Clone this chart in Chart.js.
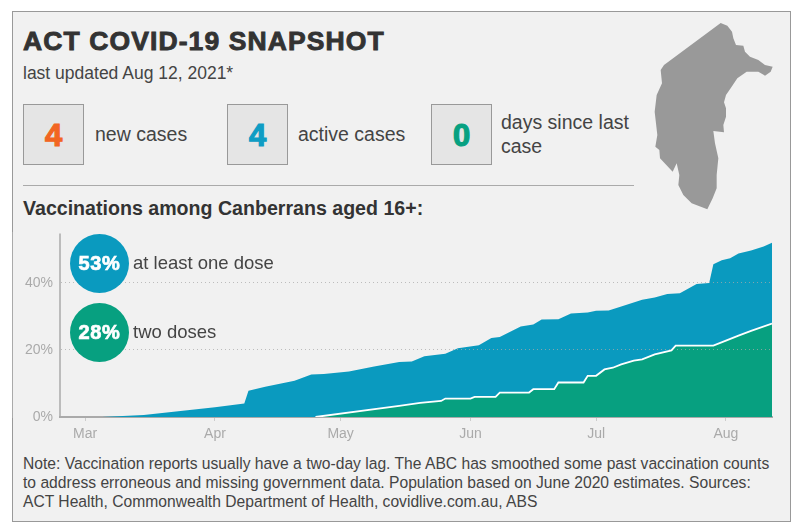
<!DOCTYPE html>
<html>
<head>
<meta charset="utf-8">
<script src="https://cdn.jsdelivr.net/npm/chart.js@4"></script>
<style>
html, body { margin: 0; padding: 0; background: #fff; }
body { width: 800px; height: 532px; position: relative; overflow: hidden; font-family: "Liberation Sans", Arial, sans-serif; color: #444; }
#panel { position: absolute; left: 12px; top: 11px; width: 777px; height: 509px; background: #f1f1f1; border: 1px solid #999; }
.t { position: absolute; white-space: nowrap; line-height: 1; }
.box { position: absolute; top: 104px; width: 59px; height: 59px; background: #e5e5e5; border: 1px solid #999; text-align: center; font-weight: bold; font-size: 31px; line-height: 61px; -webkit-text-stroke: 1.2px; }
.dot { position: absolute; left: 70px; width: 59px; height: 59px; border-radius: 50%; color: #fff; text-align: center; font-weight: bold; font-size: 20px; letter-spacing: 0.6px; line-height: 59px; -webkit-text-stroke: 0.7px #fff; }
.big { font-size: 19.5px; }
.note { font-size: 15.65px; }
#chart { position: absolute; left: 12px; top: 218px; }
#map { position: absolute; left: 650px; top: 15px; }
#rule { position: absolute; left: 23px; top: 185px; width: 611px; height: 1px; background: #aaa; }
</style>
</head>
<body>
<div id="panel"></div>
<div class="t" style="left:23px;top:28px;font-size:26.5px;font-weight:bold;color:#333;letter-spacing:1.1px;-webkit-text-stroke:0.9px #333">ACT COVID-19 SNAPSHOT</div>
<div class="t" style="left:23px;top:65px;font-size:17.5px">last updated Aug 12, 2021*</div>

<div class="box" style="left:23px;color:#f26522">4</div>
<div class="t big" style="left:95px;top:125px">new cases</div>
<div class="box" style="left:227px;color:#0f9dc4">4</div>
<div class="t big" style="left:298px;top:125px">active cases</div>
<div class="box" style="left:431px;color:#07a181">0</div>
<div class="t big" style="left:501px;top:113px">days since last</div>
<div class="t big" style="left:501px;top:137px">case</div>

<div id="rule"></div>
<svg id="map" width="130" height="200" viewBox="0 0 390 600">
  <polygon fill="#999" points="212,24 232,32 246,50 250,70 258,90 280,92 285,110 300,125 325,135 345,150 368,155 362,170 345,182 325,170 290,170 262,190 245,215 228,240 222,262 228,280 228,305 220,330 222,352 190,348 195,385 205,430 200,480 200,520 188,550 172,583 125,565 100,540 85,510 88,480 80,445 68,470 30,430 28,405 16,395 22,360 14,290 20,240 36,205 32,165 42,150"/>
</svg>

<div class="t" style="left:23px;top:199px;font-size:19.6px;font-weight:bold;color:#333">Vaccinations among Canberrans aged 16+:</div>

<canvas id="chart" width="761" height="232"></canvas>

<div class="dot" style="top:234px;background:#0a9abf">53%</div>
<div class="t" style="left:133px;top:254px;font-size:18.5px">at least one dose</div>
<div class="dot" style="top:303px;background:#07a080">28%</div>
<div class="t" style="left:133px;top:323px;font-size:18.5px">two doses</div>

<div class="t note" style="left:23px;top:456px">Note: Vaccination reports usually have a two-day lag. The ABC has smoothed some past vaccination counts</div>
<div class="t note" style="left:23px;top:475px">to address erroneous and missing government data. Population based on June 2020 estimates. Sources:</div>
<div class="t note" style="left:23px;top:494px">ACT Health, Commonwealth Department of Health, covidlive.com.au, ABS</div>

<script>
// days counted from 1 March 2021
const monthDays = [0, 31, 61, 92, 122, 153];
const monthLabels = ['Mar', 'Apr', 'May', 'Jun', 'Jul', 'Aug'];

const oneDoseDays = [0, 4, 14, 31, 38, 39, 43, 50, 54, 57, 63, 69, 75, 78, 81, 86, 89, 94, 97, 99, 104, 107, 109, 113, 116, 120, 122, 125, 128, 133, 136, 139, 142, 146, 149, 150, 152, 154, 156, 159, 162, 164];
const oneDose = [0, 0, 0.6, 2.9, 4, 7.8, 9, 10.8, 12.7, 12.8, 13.6, 15.1, 16.4, 16.6, 18.1, 18.9, 20.5, 21.4, 23.6, 23.9, 27, 27.6, 29.1, 29.2, 30.9, 31.2, 31.7, 31.8, 33, 35, 35.7, 36.7, 36.9, 39.7, 40, 45.6, 46.8, 47.4, 48.8, 49.7, 50.9, 52];

const twoDoseDays = [55, 75, 80, 85, 86, 92, 93, 98, 99, 106, 107, 112, 113, 119, 120, 122, 124, 126, 128, 131, 133, 136, 140, 141, 150, 153, 156, 159, 164];
const twoDoses = [0, 3.3, 4.2, 4.8, 5.5, 5.5, 6, 6, 7.3, 7.3, 8.3, 8.3, 10.3, 10.3, 12.3, 12.3, 14.2, 14.7, 15.7, 16.8, 17.2, 18.7, 19.9, 21.3, 21.3, 22.8, 24.3, 25.7, 27.9];

const yTicks = [0, 20, 40];

function toPoints(days, values) {
    return days.map((d, i) => ({ x: d, y: values[i] }));
}

// the y axis line, the dashed border setting loses it
const axisLine = {
    id: 'axisLine',
    afterDatasetsDraw(chart) {
        const { ctx, chartArea } = chart;
        ctx.save();
        ctx.strokeStyle = '#aaa';
        ctx.lineWidth = 1.5;
        ctx.beginPath();
        ctx.moveTo(chartArea.left, chartArea.top);
        ctx.lineTo(chartArea.left, chartArea.bottom);
        ctx.stroke();
        ctx.restore();
    }
};

new Chart(document.querySelector('#chart'), {
    type: 'line',
    plugins: [axisLine],
    data: {
        datasets: [
            {
                label: 'two doses',
                data: toPoints(twoDoseDays, twoDoses),
                order: 1,
                fill: 'origin',
                backgroundColor: '#07a080',
                borderColor: '#ffffff',
                borderWidth: 1.8,
                pointRadius: 0,
                tension: 0
            },
            {
                label: 'at least one dose',
                data: toPoints(oneDoseDays, oneDose),
                order: 2,
                fill: 'origin',
                backgroundColor: '#0a9abf',
                borderWidth: 0,
                pointRadius: 0,
                tension: 0
            }
        ]
    },
    options: {
        responsive: false,
        animation: false,
        layout: { padding: { top: 1, right: 1 } },
        plugins: { legend: { display: false }, tooltip: { enabled: false } },
        scales: {
            x: {
                type: 'linear',
                min: -6,
                max: 164,
                afterBuildTicks: (axis) => { axis.ticks = monthDays.map((d) => ({ value: d })); },
                afterFit: (axis) => { axis.height = 33; },
                grid: { drawOnChartArea: false, tickColor: '#ccc', tickLength: 4 },
                border: { color: '#aaa', width: 2 },
                ticks: {
                    color: '#aaa',
                    font: { family: 'Liberation Sans', size: 14 },
                    padding: 5,
                    maxRotation: 0,
                    autoSkip: false,
                    callback: (v) => monthLabels[monthDays.indexOf(v)]
                }
            },
            y: {
                min: 0,
                max: 54.8,
                afterBuildTicks: (axis) => { axis.ticks = yTicks.map((v) => ({ value: v })); },
                afterFit: (axis) => { axis.width = 48; },
                grid: { color: 'rgba(170,170,170,0.75)', z: 1, drawTicks: false },
                border: { color: '#aaa', width: 2, dash: [1, 3] },
                ticks: {
                    color: '#aaa',
                    font: { family: 'Liberation Sans', size: 14 },
                    padding: 7,
                    callback: (v) => v + '%'
                }
            }
        }
    }
});
</script>
</body>
</html>
